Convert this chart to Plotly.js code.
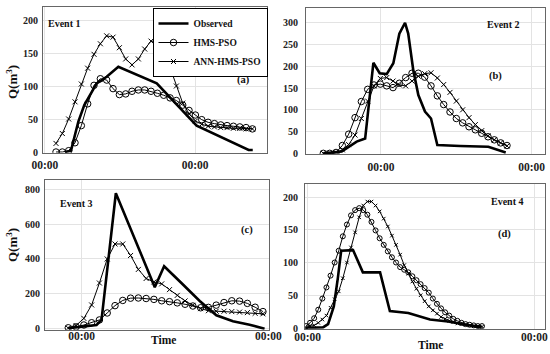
<!DOCTYPE html>
<html><head><meta charset="utf-8">
<script src="https://cdn.plot.ly/plotly-3.0.1.min.js"></script>
<style>html,body{margin:0;padding:0;background:#fff}#chart{width:550px;height:354px}</style>
</head><body><div id="chart"></div>
<script>
// ---- Event 1 (a): time step index (hourly samples)
const tA = [0,1,2,3,4,5,6,7,8,9,10,11,12,13,14,15,16,17,18,19,20,21,22,23,24,25,26,27,28,29,30,31];
const hmsA = [0,0,2,14,40,73,101,111,109,96,87,88,92,94,94,92,89,86,82,78,71,63,56,49,45,43,41,40,39,38,37,35];
const annA = [13,28,50,76,103,127,148,164,176,174,158,141,132,141,156,168,167,155,128,100,74,58,47,42,39,38,37,37,36,36,35,35];
const obsA_t = [1.5,2.37,3.1,3.53,4.47,5.37,6.42,8.0,9.84,15.9,22.2,30.4,31.05];
const obsA = [0,2,30,46,71,86,104,114,129,104,40,3,3];

// ---- Event 2 (b)
const tB = [0,1,2,3,4,5,6,7,8,9,10,11,12,13,14,15,16,17,18,19,20,21,22,23,24,25,26,27,28,29];
const hmsB = [0,0,2,18,44,82,119,147,157,159,155,151,161,174,184,184,175,155,132,112,95,80,70,61,54,46,38,31,24,18];
const annB = [0,0,2,8,20,42,80,120,155,172,174,166,157,155,166,177,183,185,173,158,140,120,100,82,66,52,40,31,24,17];
const obsB_t = [0,2.9,5.26,6.2,6.6,7.9,8.9,10.0,11.05,12.0,12.9,13.4,14.2,15.0,16.05,17.0,18.0,21.6,26.05,28.8];
const obsB = [0,4,27,31,34,208,184,182,207,275,300,275,191,134,96,80,19,17,15,2];

// ---- Event 3 (c)
const tC = [0,1,2,3,4,5,6,7,8,9,10,11,12,13,14,15,16,17,18,19,20,21,22,23,24,25];
const hmsC = [5,10,21,34,50,90,132,162,175,176,173,168,160,155,148,140,130,120,122,135,150,160,158,145,123,98];
const annC = [3,18,59,136,262,400,486,486,420,340,288,268,257,224,191,159,134,115,103,100,100,98,95,92,88,85];
const obsC_t = [0,3.63,4.27,6.11,11.11,12.31,14.53,16.88,19.02,21.15,23.29,25.21];
const obsC = [3,21,50,777,238,358,262,159,77,42,23,0];

// ---- Event 4 (d)
const tD = [0,1,2,3,4,5,6,7,8,9,10,11,12,13,14,15,16,17,18,19,20,21,22,23,24,25,26,27,28,29,30,31,32,33,34,35,36,37,38,39,40,41,42,43];
const hmsD = [3,8,15,28,45,62,80,100,118,140,158,172,180,183,180,173,162,149,137,127,117,108,100,93,89,85,79,73,67,61,54,45,37,30,24,19,14,11,8,6,5,4,3,3];
const annD = [1,3,4,8,13,19,31,44,56,76,100,123,146,169,187,193,193,187,178,167,155,141,127,112,96,83,71,60,50,41,33,27,22,17,14,11,9,7,6,5,4,3,3,2];
const obsD_t = [0,4.15,5.4,6.8,7.8,8.6,11.5,13.9,18.1,20.5,25.0,30.3,34.7,39.6,42.8];
const obsD = [0,1,6,33,77,118,119,85,85,26,23,13,10,4,1];

// tick labels and positions of midnight in each panel's step units
const tickText = ['00:00','00:00'];
const ticksA = [-1.74,21.95], ticksB = [9.1,32.9], ticksC = [1.71,25.7], ticksD = [0.42,55.8];

const names = ['Observed','HMS-PSO','ANN-HMS-PSO'];
const W = 550, H = 354;
const fx = v => v / W, fy = v => 1 - v / H;
const FONT = 'Liberation Serif, Times New Roman, serif';

function panel(n, obsT, obs, t, hms, ann, msize, show) {
  const xa = n === 1 ? 'x' : 'x' + n, ya = n === 1 ? 'y' : 'y' + n;
  return [
    {x: obsT, y: obs, type: 'scatter', mode: 'lines', name: names[0], xaxis: xa, yaxis: ya,
     line: {color: '#000', width: 2.6}, showlegend: show},
    {x: t, y: hms, type: 'scatter', mode: 'lines+markers', name: names[1], xaxis: xa, yaxis: ya,
     line: {color: '#000', width: 1}, marker: {symbol: 'circle-open', size: msize, color: '#000', line: {width: 1, color: '#000'}}, showlegend: show},
    {x: t, y: ann, type: 'scatter', mode: 'lines+markers', name: names[2], xaxis: xa, yaxis: ya,
     line: {color: '#000', width: 1}, marker: {symbol: 'x-thin-open', size: msize - 1.5, color: '#000', line: {width: 1, color: '#000'}}, showlegend: show}
  ];
}

const data = [].concat(
  panel(1, obsA_t, obsA, tA, hmsA, annA, 6.5, true),
  panel(2, obsB_t, obsB, tB, hmsB, annB, 6.5, false),
  panel(3, obsC_t, obsC, tC, hmsC, annC, 6.5, false),
  panel(4, obsD_t, obsD, tD, hmsD, annD, 5, false)
);

const yTickFont = {family: FONT, size: 10, color: '#222', weight: 'bold'};
const xTickFont = {family: FONT, size: 11.5, color: '#222', weight: 'bold'};
function xax(l, r, range, tv, standoff) {
  return {domain: [fx(l), fx(r)], range: range, tickvals: tv, ticktext: tickText, tickmode: 'array',
    showgrid: true, gridcolor: '#e3e3e3', gridwidth: 1, zeroline: false, showline: true, mirror: true,
    linecolor: '#666', linewidth: 1, ticks: '', tickfont: xTickFont, ticklabelstandoff: standoff, fixedrange: true};
}
function yax(b, t, range, dtick, anchor, standoff) {
  return {domain: [fy(b), fy(t)], range: range, dtick: dtick, tick0: 0, showgrid: true, gridcolor: '#e3e3e3',
    zeroline: false, showline: true, mirror: true, linecolor: '#666', linewidth: 1, ticks: '',
    tickfont: yTickFont, ticklabelstandoff: standoff, anchor: anchor};
}

const ann = (text, x, y, size, extra) => Object.assign({text: text, x: fx(x), y: fy(y), xref: 'paper', yref: 'paper',
  showarrow: false, xanchor: 'center', yanchor: 'middle', font: {family: FONT, size: size, color: '#111', weight: 'bold'}}, extra || {});

const layout = {
  width: W, height: H, margin: {l: 0, r: 0, t: 0, b: 0}, paper_bgcolor: '#fff', plot_bgcolor: '#fff',
  showlegend: true,
  legend: {x: fx(267.5), xanchor: 'right', y: fy(8), yanchor: 'top', bgcolor: '#fff', bordercolor: '#000', borderwidth: 1,
    font: {family: FONT, size: 9.5, color: '#111', weight: 'bold'}, itemwidth: 30, tracegroupgap: 0},
  xaxis: xax(43, 267, [-2.05, 33.3], ticksA, 2),
  yaxis: yax(152.66, 6.8, [-1, 220], 50, 'x', 2),
  xaxis2: Object.assign(xax(306, 545, [-2.74, 35.0], ticksB, 2), {anchor: 'y2'}),
  yaxis2: yax(154.2, 7.5, [-2, 335], 50, 'x2', 5),
  xaxis3: Object.assign(xax(45, 269, [-2.99, 25.78], ticksC, -5), {anchor: 'y3'}),
  yaxis3: yax(329.7, 180.2, [-6, 852], 200, 'x3', 2),
  xaxis4: Object.assign(xax(305, 545, [-0.24, 58.4], ticksD, -3), {anchor: 'y4'}),
  yaxis4: yax(328.7, 183.9, [-1, 220], 50, 'x4', 4),
  annotations: [
    ann('Event 1', 64, 23.5, 10),
    ann('Event 2', 503, 24, 10),
    ann('Event 3', 76, 203, 10),
    ann('Event 4', 507, 201, 10),
    ann('(a)', 243, 80, 10.5),
    ann('(b)', 495, 76, 10.5),
    ann('(c)', 247, 230, 10.5),
    ann('(d)', 504, 234, 10.5),
    ann('Q(m<sup>3</sup>)', 12, 82, 13, {textangle: -90}),
    ann('Q(m<sup>3</sup>)', 12, 245, 13, {textangle: -90}),
    ann('Time', 163, 340, 11.5),
    ann('Time', 430, 345, 11.5)
  ]
};

Plotly.newPlot('chart', data, layout, {staticPlot: true, displayModeBar: false});
</script></body></html>
